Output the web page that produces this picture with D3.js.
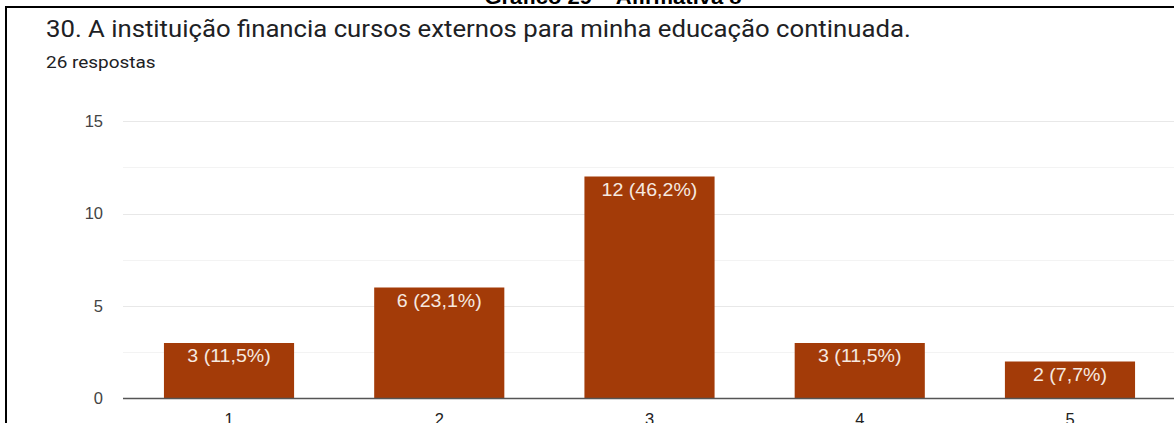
<!DOCTYPE html>
<html><head><meta charset="utf-8">
<script src="https://cdn.jsdelivr.net/npm/d3@7"></script>
<style>html,body{margin:0;padding:0;background:#fff;overflow:hidden}</style>
</head><body>
<svg id="c" width="1174" height="423"></svg>
<script>
const categories = ["1","2","3","4","5"];
const counts = [3, 6, 12, 3, 2];
const percents = ["11,5%","23,1%","46,2%","11,5%","7,7%"];
const yTicks = [0, 5, 10, 15];
const yMinor = [2.5, 7.5, 12.5];
const caption = "Gráfico 29 – Afirmativa 8";
const title = "30. A instituição financia cursos externos para minha educação continuada.";
const subtitle = "26 respostas";

const svg = d3.select("#c");
const x = d3.scaleBand().domain(categories).range([124, 1175]).paddingInner(0.381).paddingOuter(0.19);
const y = d3.scaleLinear().domain([0, 15]).range([398.5, 121]);

// caption (cut off at top, as in the reference)
svg.append("text").attr("transform", "translate(613,4) scale(1.1,1)").attr("text-anchor", "middle")
  .attr("font-family", "Liberation Sans, Arial, sans-serif").attr("font-weight", "bold")
  .attr("font-size", 20).attr("fill", "#000").text(caption);

// frame
svg.append("line").attr("x1", 6).attr("x2", 1174).attr("y1", 7).attr("y2", 7).attr("stroke", "#000").attr("stroke-width", 2);
svg.append("line").attr("x1", 6).attr("x2", 6).attr("y1", 6).attr("y2", 423).attr("stroke", "#000").attr("stroke-width", 2);

svg.append("text").attr("transform", "translate(46,37) scale(1.05,1)")
  .attr("font-family", "Roboto, Arial, sans-serif").attr("font-size", 24.5).attr("fill", "#202124").text(title);
svg.append("text").attr("transform", "translate(46,68) scale(1.15,1)")
  .attr("font-family", "Roboto, Arial, sans-serif").attr("font-size", 16.5).attr("fill", "#202124").text(subtitle);

// grid
svg.append("g").selectAll("line").data(yMinor).join("line")
  .attr("x1", 123).attr("x2", 1174).attr("y1", d => Math.round(y(d)) + 0.5).attr("y2", d => Math.round(y(d)) + 0.5)
  .attr("stroke", "#f3f3f3");
svg.append("g").selectAll("line").data(yTicks.filter(d => d > 0)).join("line")
  .attr("x1", 123).attr("x2", 1174).attr("y1", d => Math.round(y(d)) + 0.5).attr("y2", d => Math.round(y(d)) + 0.5)
  .attr("stroke", "#e8e8e8");

// y axis labels
const yAxis = d3.axisLeft(y).tickValues(yTicks).tickSize(0).tickPadding(0);
const ga = svg.append("g").attr("transform", "translate(103,0)").call(yAxis);
ga.select(".domain").remove();
ga.selectAll("text").attr("font-family", "Liberation Sans, Arial, sans-serif").attr("font-size", 16.5).attr("fill", "#444");

// bars
svg.append("g").selectAll("rect").data(counts).join("rect")
  .attr("x", (d, i) => x(categories[i])).attr("width", x.bandwidth())
  .attr("y", d => y(d)).attr("height", d => y(0) - y(d)).attr("fill", "#a33b08");

svg.append("g").selectAll("text").data(counts).join("text")
  .attr("transform", (d, i) => `translate(${x(categories[i]) + x.bandwidth() / 2},${y(d) + 19}) scale(1.12,1)`)
  .attr("text-anchor", "middle").attr("font-family", "Liberation Sans, Arial, sans-serif")
  .attr("font-size", 17.5).attr("fill", "#f6e9e0")
  .text((d, i) => `${d} (${percents[i]})`);

// baseline
svg.append("line").attr("x1", 123).attr("x2", 1174).attr("y1", y(0)).attr("y2", y(0)).attr("stroke", "#555").attr("stroke-width", 1.5);

// x axis labels
const xAxis = d3.axisBottom(x).tickSize(0).tickPadding(0);
const gx = svg.append("g").attr("transform", "translate(0,413)").call(xAxis);
gx.select(".domain").remove();
gx.selectAll("text").attr("font-family", "Liberation Sans, Arial, sans-serif").attr("font-size", 16.5).attr("fill", "#222");
</script>
</body></html>
